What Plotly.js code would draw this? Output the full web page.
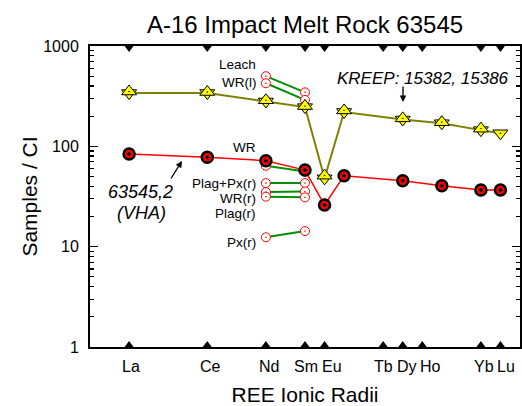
<!DOCTYPE html>
<html>
<head>
<meta charset="utf-8">
<script src="https://cdn.plot.ly/plotly-3.0.1.min.js"></script>
<style>html,body{margin:0;padding:0;background:#fff;}#chart{width:522px;height:406px;}</style>
</head>
<body>
<div id="chart"></div>
<script>
// REE tick labels and their positions on the ionic-radius axis
const ree = ['La','Ce','Nd','Sm','Eu','Tb','Dy','Ho','Yb','Lu'];
const reePos = [0,4,7,9,10,13,14,15,18,19];
const elemPos = {La:0,Ce:4,Nd:7,Sm:9,Eu:10,Gd:11,Tb:13,Dy:14,Ho:15,Er:16,Yb:18,Lu:19};

// 63545,2 (VHA) whole rock
const vhaElems = ['La','Ce','Nd','Sm','Eu','Gd','Dy','Er','Yb','Lu'];
const vhaVals  = [84, 78, 72, 58, 26, 51, 45.5, 40.5, 36.7, 36.7];

// KREEP 15382 (up triangles) and 15386 (down triangles)
const k15382Elems = ['La','Ce','Nd','Sm','Eu','Gd','Dy','Er','Yb'];
const k15382Vals  = [352, 348, 288, 252, 51, 228, 190, 174, 150];
const k15386Elems = ['La','Ce','Nd','Sm','Eu','Gd','Dy','Er','Yb','Lu'];
const k15386Vals  = [340, 340, 280, 246, 48, 220, 185, 170, 145, 135];

// Mineral separates / leach (Nd and Sm only)
const sepNames = ['Leach','WR(l)','WR','Plag+Px(r)','WR(r)','Plag(r)','Px(r)'];
const sepNd = [500, 425, 64, 43, 35, 31.5, 12.4];
const sepSm = [345, 290, 56, 43, 35.5, 31, 14.3];

const FONT = 'Liberation Sans, Arial, sans-serif';
const traces = [];

// separates: green lines, open red circles
sepNames.forEach((n, i) => {
  traces.push({
    type: 'scatter', mode: 'lines+markers', name: n,
    x: [elemPos.Nd, elemPos.Sm], y: [sepNd[i], sepSm[i]],
    line: {color: '#009000', width: 2},
    marker: {symbol: 'circle-dot', size: 9, color: '#ffffff', line: {color: '#ff0000', width: 1}},
    showlegend: false, hoverinfo: 'skip'
  });
});

// KREEP
traces.push({
  type: 'scatter', mode: 'lines+markers', name: '15386',
  x: k15386Elems.map(e => elemPos[e]), y: k15386Vals,
  line: {color: '#808000', width: 2},
  marker: {symbol: 'triangle-down-dot', size: 13, color: '#ffff00', line: {color: '#000000', width: 1}},
  showlegend: false
});
traces.push({
  type: 'scatter', mode: 'markers', name: '15382',
  x: k15382Elems.map(e => elemPos[e]), y: k15382Vals,
  marker: {symbol: 'triangle-up-dot', size: 13, color: '#ffff00', line: {color: '#000000', width: 1}},
  showlegend: false
});

// VHA
traces.push({
  type: 'scatter', mode: 'lines+markers', name: '63545,2',
  x: vhaElems.map(e => elemPos[e]), y: vhaVals,
  line: {color: '#ff0000', width: 1.5},
  marker: {symbol: 'circle-dot', size: 11, color: '#ff0000', line: {color: '#000000', width: 2.5}},
  showlegend: false
});

// plot-area pixel helpers (for annotation placement)
const L = 90, R = 520, T = 46, B = 347;
const xp = px => (px - L) / (R - L);
const yp = py => (B - py) / (B - T);

// black triangle markers on top and bottom frame
const shapes = [];
const hw = 0.23, th = 0.02;
reePos.forEach(p => {
  shapes.push({type: 'path', xref: 'x', yref: 'paper', line: {width: 0}, fillcolor: '#000',
    path: `M${p-hw},1 L${p+hw},1 L${p},${1-th} Z`});
  shapes.push({type: 'path', xref: 'x', yref: 'paper', line: {width: 0}, fillcolor: '#000',
    path: `M${p-hw},0 L${p+hw},0 L${p},${th} Z`});
});

// REE axis labels (nudged sideways as in the original so neighbours don't collide)
const labelNudge = [2, 3, 3, 1, 7, 0, 4, 8, 3, 6];
const annotations = ree.map((r, i) => ({
  xref: 'x', yref: 'paper', x: reePos[i], y: 0, xshift: labelNudge[i], yshift: -19,
  xanchor: 'center', yanchor: 'middle', text: r, showarrow: false,
  font: {family: FONT, size: 16, color: '#000'}
}));

const labY = [65, 82, 147, 183, 198, 213, 242];
sepNames.forEach((n, i) => annotations.push({
  xref: 'paper', yref: 'paper', x: xp(257), y: yp(labY[i]), xanchor: 'right', yanchor: 'middle',
  text: n, showarrow: false, font: {family: FONT, size: 13.5, color: '#000'}, borderpad: 0
}));
annotations.push({
  xref: 'paper', yref: 'paper', x: xp(423), y: yp(78), xanchor: 'center', yanchor: 'middle',
  text: '<i>KREEP: 15382, 15386</i>', showarrow: false, font: {family: FONT, size: 17, color: '#000'}
});
annotations.push({
  xref: 'paper', yref: 'paper', x: xp(403), y: yp(102), text: '', showarrow: true,
  ax: 0, ay: -17, arrowhead: 2, arrowsize: 1, arrowwidth: 1.3, arrowcolor: '#000'
});
annotations.push({
  xref: 'paper', yref: 'paper', x: xp(140), y: yp(192), xanchor: 'center', yanchor: 'middle',
  text: '<i>63545,2</i>', showarrow: false, font: {family: FONT, size: 18, color: '#000'}
});
annotations.push({
  xref: 'paper', yref: 'paper', x: xp(141), y: yp(213), xanchor: 'center', yanchor: 'middle',
  text: '<i>(VHA)</i>', showarrow: false, font: {family: FONT, size: 18, color: '#000'}
});
annotations.push({
  xref: 'paper', yref: 'paper', x: xp(182), y: yp(161), text: '', showarrow: true,
  ax: -12, ay: 19, arrowhead: 2, arrowsize: 1, arrowwidth: 1.3, arrowcolor: '#000'
});

const layout = {
  width: 522, height: 406,
  margin: {l: L, r: 522 - R, t: T, b: 406 - B, pad: 0},
  paper_bgcolor: '#fff', plot_bgcolor: '#fff',
  font: {family: FONT, color: '#000'},
  title: {text: 'A-16 Impact Melt Rock 63545', font: {family: FONT, size: 24, color: '#000'},
          x: 0.5, xref: 'paper', y: 1 - 25/406, yref: 'container', yanchor: 'middle'},
  xaxis: {
    range: [-2, 20], showgrid: false, zeroline: false,
    showline: true, linewidth: 2, linecolor: '#000', mirror: true,
    tickmode: 'array', tickvals: reePos, ticktext: ree, showticklabels: false,
    ticks: '',
    title: {text: 'REE Ionic Radii', font: {family: FONT, size: 21, color: '#000'}, standoff: 41}
  },
  yaxis: {
    type: 'log', range: [0, 3], showgrid: false, zeroline: false,
    showline: true, linewidth: 2, linecolor: '#000', mirror: 'ticks',
    tickmode: 'array', tickvals: [1, 10, 100, 1000], ticktext: ['1', '10', '100', '1000'],
    ticks: 'inside', ticklen: 8, tickwidth: 1.5, tickcolor: '#000',
    ticklabelstandoff: 6,
    minor: {ticks: 'inside', ticklen: 4, tickwidth: 1.2, tickcolor: '#000', dtick: 'D1', showgrid: false},
    tickfont: {family: FONT, size: 16, color: '#000'},
    title: {text: 'Samples / CI', font: {family: FONT, size: 21, color: '#000'}, standoff: 0}
  },
  shapes: shapes,
  annotations: annotations,
  showlegend: false
};

Plotly.newPlot('chart', traces, layout, {displayModeBar: false, staticPlot: true});
</script>
</body>
</html>
